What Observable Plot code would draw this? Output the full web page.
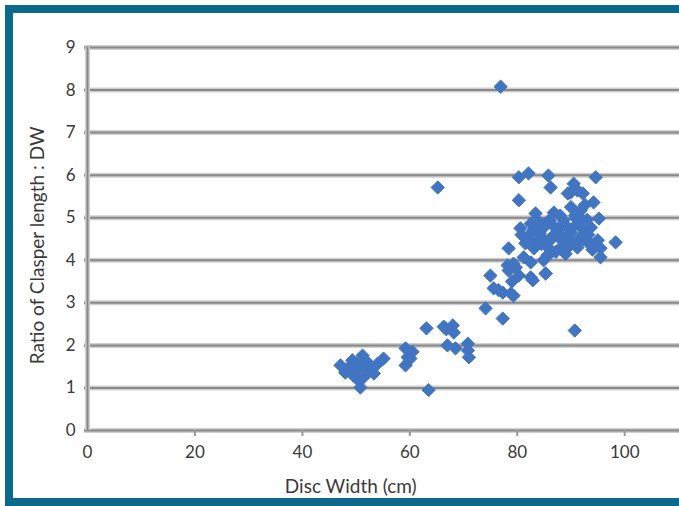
<!DOCTYPE html>
<html>
<head>
<meta charset="utf-8">
<script src="https://cdn.jsdelivr.net/npm/d3@7"></script>
<script src="https://cdn.jsdelivr.net/npm/@observablehq/plot@0.6"></script>
<style>
  html, body { margin: 0; padding: 0; background: #fff; overflow: hidden; width: 679px; height: 506px; }
  #frame { position: absolute; left: 5px; top: 5px; width: 720px; height: 485px; border: 8px solid #0b6a8b; box-sizing: content-box; }
  #chart { position: absolute; left: 0; top: 0; }
  #chart svg { background: transparent !important; }
</style>
</head>
<body>
<div id="frame"></div>
<div id="chart"></div>
<script>
// Disc width (cm)
const discWidth = [
  47.1, 48.0, 49.3, 50.3, 51.2, 50.8, 51.4, 52.7, 54.0, 55.1, 49.5, 52.1, 48.6, 50.5, 53.3, 51.8, 50.0,
  59.2, 59.6, 60.1, 59.2, 60.5,
  63.5, 63.1,
  66.3, 68.0, 68.2, 67.0, 68.5, 70.8, 71.0, 70.8, 66.8,
  74.1, 77.3, 90.7,
  75.0, 75.6, 77.3, 78.8, 79.3, 78.4, 79.7, 80.3, 82.9, 85.3, 82.5, 78.2, 76.5, 79.0,
  65.2, 76.9,
  80.3, 82.1, 85.8, 86.2, 94.6, 80.3, 89.9, 91.2, 92.2, 94.2, 95.2, 83.4, 86.8, 91.8,
  80.6, 82.5, 84.9, 88.6, 91.2, 93.7, 81.9, 84.4, 86.8, 89.4, 91.8, 95.0, 98.3, 95.5,
  78.4, 83.1, 85.7, 88.5, 91.2, 93.7, 95.5, 81.2, 84.9, 79.3, 82.5, 85.3, 90.5, 89.4,
  83.8, 85.2, 87.5, 90.0, 92.5, 84.0, 86.0, 88.0, 90.3, 92.8, 87.2, 89.0, 83.0, 93.0,
  84.5, 86.5, 88.2, 89.8, 91.5, 93.2, 85.0, 87.0, 89.0, 91.0, 92.0, 84.2, 86.3, 88.7,
  90.8, 83.6, 85.6, 87.8, 89.6, 91.6, 81.5, 83.0, 94.0, 90.0, 88.0, 86.0, 80.8, 92.6
];
// Ratio of clasper length : DW
const ratio = [
  1.53, 1.36, 1.65, 1.57, 1.76, 1.01, 1.25, 1.41, 1.57, 1.69, 1.29, 1.60, 1.48, 1.17, 1.34, 1.45, 1.40,
  1.93, 1.72, 1.69, 1.53, 1.85,
  0.95, 2.40,
  2.44, 2.47, 2.30, 2.00, 1.93, 2.04, 1.72, 1.88, 2.38,
  2.87, 2.63, 2.35,
  3.64, 3.34, 3.24, 3.22, 3.17, 3.76, 3.83, 3.64, 3.53, 3.69, 3.95, 3.88, 3.30, 3.50,
  5.71, 8.08,
  5.95, 6.04, 5.99, 5.71, 5.95, 5.41, 5.59, 5.64, 5.57, 5.36, 4.98, 5.10, 5.12, 5.17,
  4.75, 4.86, 4.77, 4.94, 4.86, 4.77, 4.54, 4.51, 4.58, 4.54, 4.54, 4.47, 4.42, 4.28,
  4.28, 4.28, 4.30, 4.35, 4.30, 4.35, 4.07, 4.07, 4.00, 3.92, 3.60, 3.69, 5.80, 5.57,
  4.65, 4.45, 4.70, 4.65, 4.62, 4.90, 4.95, 4.60, 4.40, 4.50, 4.20, 4.15, 4.40, 4.95,
  4.38, 4.55, 4.48, 4.72, 4.40, 4.60, 4.85, 4.78, 4.25, 4.98, 4.75, 4.62, 4.18, 4.85,
  5.05, 4.35, 4.12, 4.55, 4.35, 5.02, 4.40, 4.70, 4.25, 5.25, 5.05, 4.45, 4.60, 5.30
];
const xTicks = [0, 20, 40, 60, 80, 100];
const yTicks = [0, 1, 2, 3, 4, 5, 6, 7, 8, 9];
const xTitle = "Disc Width (cm)";
const yTitle = "Ratio of Clasper length : DW";

const data = discWidth.map((d, i) => ({x: d, y: ratio[i]}));
const font = "Lato, 'Open Sans', sans-serif";

const chart = Plot.plot({
  width: 679,
  height: 506,
  marginLeft: 87,
  marginRight: 0,
  marginTop: 47,
  marginBottom: 76,
  style: {fontFamily: font, fontSize: "17px", color: "#3a3a3a", background: "transparent"},
  x: {domain: [0, 110.2]},
  y: {domain: [0, 9]},
  marks: [
    Plot.ruleY(yTicks, {y: d => d, stroke: "#cfcfcf", strokeWidth: 5, insetLeft: -3}),
    Plot.ruleY(yTicks, {y: d => d, stroke: "#888", strokeWidth: 2, insetLeft: -3}),
    Plot.ruleX([0], {stroke: "#cfcfcf", strokeWidth: 5}),
    Plot.ruleX([0], {stroke: "#888", strokeWidth: 2}),
    Plot.axisX({ticks: xTicks.slice(1), tickSize: 6, stroke: "#999", strokeWidth: 2, tickFormat: () => "", label: null}),
    Plot.axisX({ticks: xTicks, tickSize: 0, tickPadding: 15, label: null, fontSize: 17, fill: "#3a3a3a"}),
    Plot.axisY({ticks: yTicks, tickSize: 0, tickPadding: 12, label: null, fontSize: 17, fill: "#3a3a3a"}),
    Plot.text([xTitle], {x: 49, frameAnchor: "bottom", dy: 62, fontSize: 19, fill: "#3a3a3a"}),
    Plot.text([yTitle], {y: 4.35, frameAnchor: "left", textAnchor: "middle", dx: -50, rotate: -90, fontSize: 19, fill: "#3a3a3a"}),
    Plot.dot(data, {x: "x", y: "y", symbol: "diamond2", r: 6, fill: "#4175c2", stroke: "#4175c2", strokeWidth: 1})
  ]
});
document.getElementById("chart").appendChild(chart);
</script>
</body>
</html>
